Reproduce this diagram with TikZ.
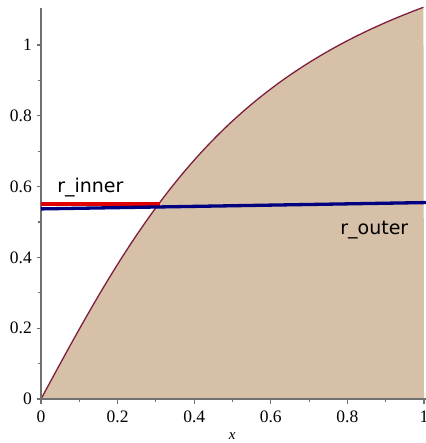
\documentclass[tikz,border=0pt]{standalone}
\usepackage{fontspec}
\setmainfont{Liberation Serif}
\newfontfamily\labfont{DejaVu Sans}
\definecolor{filltan}{RGB}{214,192,167}
\definecolor{curvered}{RGB}{126,30,60}
\definecolor{axisgray}{RGB}{112,112,112}
\definecolor{rinred}{RGB}{225,0,0}
\definecolor{routblue}{RGB}{0,0,128}
\tikzset{
  axisline/.style={draw=axisgray, line width=1.4pt},
  majtick/.style={draw=axisgray, line width=1.1pt},
  ticklab/.style={font=\fontsize{17.5}{20}\selectfont, inner sep=0pt},
  curvelab/.style={font=\labfont\fontsize{19}{22}\selectfont, inner sep=0pt, anchor=base west},
}
\begin{document}
\begin{tikzpicture}[x=383pt, y=354pt]
\useasboundingbox (-0.10705,-0.12429) rectangle (1.00261,1.12712);
% fill under curve
\fill[filltan] (0,0) -- plot[domain=0:1, samples=100, smooth] (\x,{rad(atan(2*\x))}) -- (1,0) -- cycle;
\draw[curvered, line width=1.3pt] plot[domain=0:1, samples=100, smooth] (\x,{rad(atan(2*\x))});
% axes
\draw[axisline] (0,0) -- (1.01,0);
\draw[axisline] (0,0) -- (0,1.105);
% x ticks
\foreach \t in {0,0.2,0.4,0.6,0.8,1} {
  \draw[majtick] (\t,0) -- ++(0,-4.5pt);
}
\foreach \t in {0.1,0.3,0.5,0.7,0.9} {
  \draw[majtick] (\t,0) -- ++(0,-3pt);
}
\node[ticklab, anchor=center] (xl0) at (0,-0.0508) {0};
\node[ticklab, anchor=center] (xl1) at (0.2,-0.0508) {0.2};
\node[ticklab, anchor=center] (xl2) at (0.4,-0.0508) {0.4};
\node[ticklab, anchor=center] (xl3) at (0.6,-0.0508) {0.6};
\node[ticklab, anchor=center] (xl4) at (0.8,-0.0508) {0.8};
\node[ticklab, anchor=center] (xl5) at (1.0,-0.0508) {1};
% y ticks
\foreach \t in {0,0.2,0.4,0.6,0.8,1} {
  \draw[majtick] (0,\t) -- ++(-4.5pt,0);
}
\foreach \t in {0.1,0.3,0.5,0.7,0.9} {
  \draw[majtick] (0,\t) -- ++(-3pt,0);
}
\node[ticklab, anchor=east] (yl0) at (-0.0235,0) {0};
\node[ticklab, anchor=east] (yl1) at (-0.0235,0.2) {0.2};
\node[ticklab, anchor=east] (yl2) at (-0.0235,0.4) {0.4};
\node[ticklab, anchor=east] (yl3) at (-0.0235,0.6) {0.6};
\node[ticklab, anchor=east] (yl4) at (-0.0235,0.8) {0.8};
\node[ticklab, anchor=east] (yl5) at (-0.0235,1.0) {1};
\node[font=\fontsize{15}{18}\selectfont\itshape, inner sep=0pt] (xlab) at (0.499,-0.105) {x};
% lines
\draw[rinred, line width=3.2pt] (0,0.551) -- (0.311,0.551);
\draw[routblue, line width=3.3pt] (0,0.537) -- (1.01,0.555);
% labels
\node[curvelab] (rin) at (0.042,0.582) {r\_inner};
\node[curvelab] (rout) at (0.781,0.465) {r\_outer};
\end{tikzpicture}
\end{document}
